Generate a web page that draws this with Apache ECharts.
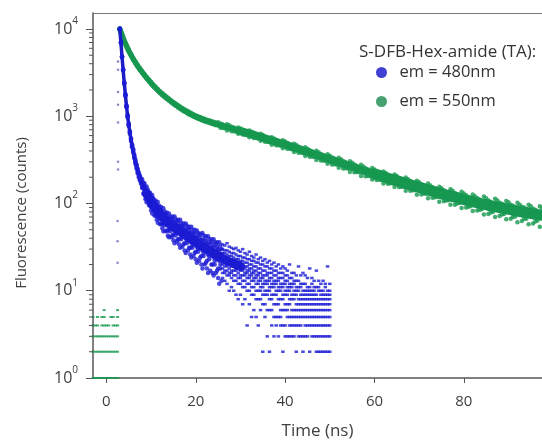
<!DOCTYPE html>
<html><head><meta charset="utf-8">
<script src="https://cdn.jsdelivr.net/npm/echarts@6/dist/echarts.min.js"></script>
<style>html,body{margin:0;padding:0;background:#fff}#c{width:542px;height:445px}</style>
</head><body><div id="c"></div>
<script>
// ---------- data ----------
const xTicks = [0, 20, 40, 60, 80];
const yTicks = [1, 10, 100, 1000, 10000];
const yMinorTicks = [2,3,4,5,6,7,8,9,20,30,40,50,60,70,80,90,200,300,400,500,600,700,800,900,2000,3000,4000,5000,6000,7000,8000,9000];

// em = 480nm : counts sampled every 0.25 ns from 3 ns to 25.75 ns (four scatter samples)
const blueT0 = 3, blueDt = 0.25;
const blueA = [10100,7080,4870,3450,2450,1790,1330,1030,825,672,560,478,418,362,316,280,250,226,208,193,
189,162,162,134,157,145,125,125,102,125,115,98,100,82,104,95,80,84,67,88,81,69,72,58,77,71,61,65,52,71,66,55,
59,47,65,60,50,54,42,59,56,46,49,38,54,50,41,45,34,49,46,37,40,31,46,43,34,37,28,42,39,31,35,25,39,36,29,32,23,36,33,26];
const blueB = [9850,6900,4730,3350,2350,1710,1265,970,775,628,520,441,382,330,285,251,222,199,183,168,
155,130,142,122,103,115,96,108,91,77,88,73,85,72,60,71,58,70,58,48,60,48,60,49,41,51,41,53,44,35,46,37,
48,39,31,41,32,43,35,27,38,29,39,31,24,33,25,35,28,21,30,22,31,25,18,27,20,28,22,16,25,17,26,20,15,22,16,23,18,12,20,13];
const blueC = [9950,7020,4820,3390,2410,1740,1310,990,810,645,548,465,395,350,305,262,240,217,190,184,
170,174,127,149,124,128,134,94,114,96,100,106,73,93,77,82,88,59,78,64,69,76,49,67,55,60,67,43,61,49,55,62,
39,55,45,50,56,34,50,40,46,52,31,46,36,40,46,27,41,32,37,43,24,38,29,34,39,21,35,26,31,36,20,32,24,28,34,17,30,22,26,30];
const blueD = [10050,6950,4760,3420,2380,1770,1290,1015,790,660,533,452,410,338,294,273,229,208,201,175,
150,156,171,112,141,111,119,133,83,111,84,93,108,65,91,67,76,91,52,76,56,65,79,43,67,48,57,71,38,60,43,52,
65,34,55,39,47,59,29,50,35,43,54,26,45,31,38,50,23,41,28,35,45,20,38,25,32,42,18,34,23,29,39,16,32,20,27,36,14,29,18,23];
// dense core of the fast decay, every 0.25 ns from 3 ns to 12 ns
const blueCenter = [10000,7000,4800,3400,2400,1750,1300,1000,800,650,540,460,400,345,300,265,235,213,195,180,
165,155,146,138,130,124,118,111,105,101,96,92,88,85,82,78,75];
// wider dense part of the fast decay, every 1 ns from 9 ns to 30 ns
const blueCore = [130,105,88,75,66,59,54,50,46,43,39,36,33,31,29,27,25,23.5,22,21,20,19];
// photon-counting tail (integer counts), columns every 0.5 ns from 26 ns to 50 ns
const blueTailT0 = 26, blueTailDt = 0.5;
const blueTail = [
[14,16,18,20,22,23,25,27,30,34],[13,16,17,19,21,23,24,27,29,33],[12,15,17,19,20,22,24,26,29,35],[10,15,16,18,20,21,23,25,28,32],
[11,14,16,17,19,21,23,25,27,31],[10,13,15,17,19,20,22,24,27,30],[9,13,15,17,18,20,21,23,26,31],[8,12,14,16,18,19,21,23,25,29],
[9,12,14,15,17,19,20,22,25,28],[7,11,13,15,17,18,20,22,24,30],[8,11,13,15,16,18,19,21,24,27],[4,10,12,14,16,17,19,21,23,26],
[7,10,12,14,15,17,18,20,23,28],[5,9,11,13,15,16,18,20,22,25],[6,9,11,13,14,16,17,19,22,24],[5,8,10,12,14,15,17,19,21,26],
[4,8,10,12,13,15,16,18,21,23],[6,8,10,11,13,14,16,18,20,24],[2,7,9,11,12,14,15,17,20,22],[5,7,9,10,12,13,15,17,19,23],
[3,6,9,10,12,13,15,16,19,21],[2,6,8,10,11,13,14,16,18,22],[4,6,8,9,11,12,14,16,18,20],[3,5,7,9,11,12,13,15,17,21],
[4,5,7,9,10,12,13,15,17,19],[3,5,7,8,10,11,13,14,16,20],[4,5,6,8,10,11,12,14,16,18],[2,4,6,8,9,11,12,14,16,19],
[3,4,6,7,9,10,12,13,15,18],[3,5,6,7,9,10,11,13,15,17],[3,4,5,7,8,10,11,12,14,20],[3,4,5,6,8,9,11,12,14,16],
[3,4,5,6,8,9,10,12,13,16],[2,4,5,6,7,9,10,11,13,15],[3,4,5,6,7,8,10,11,13,19],[3,4,5,6,7,8,9,11,12,15],
[2,3,5,6,7,8,9,10,12,16],[3,4,5,6,7,8,9,10,12,15],[3,4,5,6,7,8,9,10,11,14],[2,4,5,6,7,8,9,10,11,18],
[3,4,5,6,7,8,9,10,12,14],[3,4,5,6,7,8,9,10,11,13],[2,3,4,5,6,7,8,9,11,17],[2,3,4,5,6,7,8,10,11,13],
[2,3,4,5,6,7,8,9,10,12],[2,3,4,5,6,7,8,9,10,13],[2,3,4,5,6,7,8,9,11,12],[2,3,4,5,6,7,8,9,10,19],
[2,3,4,5,6,7,8,9,10,12]];
// rising-edge points just before the peak
const blueRise = [[2.6,4250],[2.6,3400],[2.6,1900],[2.6,1350],[2.6,850],[2.6,300],[2.6,245],[2.5,63],[2.5,37],[2.5,21]];

// em = 550nm : counts every 0.5 ns from 3 ns to 97.5 ns (three scatter samples)
const greenT0 = 3, greenDt = 0.5;
const greenA = [10100,8620,7350,6480,5720,5130,4610,4200,3840,3550,3270,3040,2820,2630,2460,2310,2170,2050,1935,1840,1750,1670,1600,1525,1455,1400,1345,1292,1242,1200,1160,1123,1088,1056,1025,1000,980,956,934,914,897,880,864,848,
854,804,807,752,809,786,737,742,690,745,723,678,681,632,686,665,622,627,579,631,609,568,572,526,576,557,518,523,481,529,
512,475,478,438,484,467,431,435,397,441,424,391,395,359,402,387,355,359,326,366,352,323,327,295,334,321,292,297,267,304,
292,266,270,242,277,266,242,247,220,255,245,221,226,200,233,223,202,206,183,215,206,186,191,168,199,190,170,175,153,182,
175,156,161,140,169,161,144,149,129,156,149,133,137,119,146,140,123,128,111,136,130,115,119,102,127,121,107,111,95,120,
115,100,105,89,113,108,95,99,84,107,103,90,94,79,102,97,85,90,75,97,93,80,85,72,93,88];
const greenB = [9900,8380,7120,6270,5530,4950,4440,4040,3690,3390,3130,2900,2690,2500,2340,2190,2060,1940,1830,1735,1650,1575,1505,1435,1370,1315,1260,1212,1162,1124,1085,1050,1016,986,958,933,913,890,870,852,835,818,803,789,
784,737,770,727,688,718,673,707,666,628,658,616,648,609,573,602,563,595,557,523,549,511,541,505,472,500,464,494,461,430,
458,423,451,419,390,416,382,409,379,351,375,344,370,342,316,340,311,335,309,285,307,280,304,279,256,278,252,276,252,230,
252,228,250,228,207,227,205,227,206,188,208,186,207,187,169,188,168,188,170,154,173,154,173,156,140,158,140,158,142,126,
144,127,146,129,115,132,116,134,119,105,121,106,123,109,97,112,97,114,101,89,104,90,106,93,82,96,83,98,86,75,
90,76,92,80,70,84,72,87,76,66,79,67,82,71,61,75,63,78,67,58,71,59,73,64,54,67];
const greenC = [9800,8450,7300,6330,5680,4990,4570,4080,3800,3430,3240,2940,2790,2540,2430,2220,2140,1965,1905,1760,1725,1600,1570,1460,1430,1335,1320,1232,1218,1144,1137,1068,1066,1004,1005,950,960,908,915,868,880,834,846,805,
812,826,734,785,734,745,759,672,721,672,684,699,615,662,616,628,642,563,609,564,573,587,511,553,511,523,536,465,508,468,
480,492,423,463,425,436,448,383,421,385,395,407,345,382,349,359,370,311,348,315,325,337,282,316,286,295,306,254,287,258,
268,279,229,260,234,243,254,207,238,213,222,233,188,217,193,202,213,170,199,177,186,196,156,184,162,171,181,142,168,148,
157,166,130,155,136,144,153,118,143,124,132,142,108,132,115,123,132,100,124,107,114,124,92,114,99,106,115,85,107,92,
100,108,79,101,86,94,102,75,95,81,89,97,70,90,77,84,92,67,86,73,80,87,62,82,69,76];
// dense core of the slow decay, every 1 ns from 3 ns to 97 ns
const greenCenter = [10000,7244,5623,4519,3758,3199,2754,2399,2113,1884,1698,1549,1413,1303,1202,1122,1047,989,944,902,
865,832,804,776,750,724,700,676,653,631,610,589,566,546,525,507,490,473,455,438,421,405,389,374,360,346,333,320,308,296,
284,274,263,253,243,234,226,218,210,202,195,188,182,176,170,164,158,153,148,143,138,134,129,125,122,118,115,111,108,105,
102,99,97,94,92,90,88,86,84,82,80,79,77,75,74];
// background counts before the excitation pulse
const greenBackground = [
[-3,1],[-2.5,1],[-2,1],[-1.5,1],[-1,1],[-0.5,1],[0,1],[0.5,1],[1,1],[1.5,1],[2,1],[2.5,1],
[-3,2],[-2.5,2],[-2,2],[-1.5,2],[-1,2],[-0.5,2],[0,2],[0.5,2],[1,2],[1.5,2],[2,2],[2.5,2],
[-3,3],[-2.5,3],[-2,3],[-1.5,3],[-1,3],[-0.5,3],[0,3],[0.5,3],[1,3],[1.5,3],[2,3],[2.5,3],
[-3,4],[-2.5,4],[-2,4],[-1,4],[-0.5,4],[0,4],[0.5,4],[1.5,4],[2,4],[2.5,4],
[-3,5],[-2,5],[-1,5],[-0.5,5],[1,5],[1.5,5],[2.5,5],
[-0.5,6],[2.5,6]];

const legendTitle = 'S-DFB-Hex-amide (TA):';
const seriesNames = ['em = 480nm', 'em = 550nm'];

// ---------- chart ----------
const BLUE = '#1c1cd4', GREEN = '#17994f', GREEN_CORE = '#189556', BLUE_CORE = '#1d1dc6';
const FONT = 'Open Sans';
function pts(arr, t0, dt) { return arr.map((v, i) => [t0 + i * dt, v]); }
const greenScatter = [greenA, greenB, greenC].flatMap(a => pts(a, greenT0, greenDt));
const blueScatter = [blueA, blueB, blueC, blueD].flatMap(a => pts(a, blueT0, blueDt));
const blueTailPts = blueTail.flatMap((col, i) => col.map(v => [blueTailT0 + i * blueTailDt, v]));
const greenLine = pts(greenCenter, 3, 1);
const XMIN = -3, XMAX = 97.5;

function coreLine(name, data, color, width) {
  return {name, type: 'line', data, symbol: 'none', silent: true, z: name === seriesNames[0] ? 3 : 2,
    lineStyle: {color, width, cap: 'round', join: 'round'}};
}

const chart = echarts.init(document.getElementById('c'), null, {renderer: 'canvas'});
chart.setOption({
  animation: false,
  backgroundColor: '#fff',
  textStyle: {fontFamily: FONT},
  title: {text: legendTitle, left: 359, top: 44, padding: 0,
    textStyle: {fontFamily: FONT, fontSize: 17, fontWeight: 'normal', color: '#333'}},
  legend: {
    orient: 'vertical', left: 376, top: 64, padding: 0, itemGap: 12,
    itemWidth: 26, itemHeight: 11, icon: 'circle',
    textStyle: {fontFamily: FONT, fontSize: 16.5, color: '#333'},
    data: [{name: seriesNames[0], itemStyle: {color: '#1010c8'}}, {name: seriesNames[1], itemStyle: {color: '#178a4c'}}]
  },
  grid: {left: 93, top: 13, width: 460, height: 366, containLabel: false},
  xAxis: [{
    type: 'value', min: XMIN, max: XMAX, position: 'bottom',
    name: 'Time (ns)', nameLocation: 'middle', nameGap: 45,
    nameTextStyle: {fontFamily: FONT, fontSize: 17, color: '#404040'},
    axisLine: {onZero: false, lineStyle: {color: '#555', width: 1.5}},
    axisTick: {length: 5, lineStyle: {color: '#555'}, customValues: xTicks},
    axisLabel: {margin: 16, fontFamily: FONT, fontSize: 15, color: '#404040', customValues: xTicks},
    splitLine: {show: false}
  }, {
    type: 'value', min: XMIN, max: XMAX, position: 'top',
    axisLine: {show: true, onZero: false, lineStyle: {color: '#777', width: 1.2}},
    axisTick: {show: false}, axisLabel: {show: false}, splitLine: {show: false}
  }],
  yAxis: {
    type: 'log', logBase: 10, min: 1, max: 15240,
    axisLine: {show: true, onZero: false, lineStyle: {color: '#555', width: 1.5}},
    axisTick: {length: 7, lineStyle: {color: '#555'}, customValues: yTicks},
    axisLabel: {
      margin: 15, customValues: yTicks,
      formatter: v => {
        const e = Math.round(Math.log10(v));
        if (Math.abs(Math.pow(10, e) - v) > 1e-6 * v) return '';
        return '{b|10}{s|' + e + '}';
      },
      rich: {
        b: {fontFamily: FONT, fontSize: 16, color: '#404040', lineHeight: 26},
        s: {fontFamily: FONT, fontSize: 10, color: '#404040', verticalAlign: 'top'}
      }
    },
    splitLine: {show: false}
  },
  graphic: [{
    type: 'text', x: 22, y: 213, rotation: Math.PI / 2,
    style: {text: 'Fluorescence (counts)', fontFamily: FONT, fontSize: 15, fill: '#404040',
      textAlign: 'center', textVerticalAlign: 'middle'}
  }],
  series: [
    {name: seriesNames[1], type: 'scatter', data: greenBackground, symbol: 'rect', symbolSize: [3, 2],
      itemStyle: {color: GREEN}, silent: true, z: 2},
    coreLine(seriesNames[1], greenLine, GREEN_CORE, 5.5),
    coreLine(seriesNames[1], greenLine.slice(27), GREEN_CORE, 8),
    coreLine(seriesNames[1], greenLine.slice(57), GREEN_CORE, 11),
    {name: seriesNames[1], type: 'scatter', data: greenScatter, symbolSize: 4.5,
      itemStyle: {color: GREEN}, silent: true, z: 2},
    {name: seriesNames[0], type: 'scatter', data: blueRise, symbolSize: 2.5,
      itemStyle: {color: '#6a6ab8'}, silent: true, z: 3},
    {name: seriesNames[0], type: 'scatter', data: blueScatter, symbolSize: 4.5,
      itemStyle: {color: BLUE}, silent: true, z: 3},
    {name: seriesNames[0], type: 'scatter', data: blueTailPts, symbol: 'rect', symbolSize: [3.5, 2.5],
      itemStyle: {color: BLUE}, silent: true, z: 3},
    coreLine(seriesNames[0], pts(blueCenter, blueT0, blueDt), BLUE_CORE, 3.5),
    coreLine(seriesNames[0], pts(blueCore, 9, 1), BLUE_CORE, 9),
    {type: 'custom', silent: true, clip: false, z: 5,
      data: yMinorTicks.map(v => [XMIN, v]),
      renderItem: (params, api) => {
        const p = api.coord([api.value(0), api.value(1)]);
        return {type: 'line', shape: {x1: p[0] - 4, y1: p[1], x2: p[0], y2: p[1]},
          style: {stroke: '#555', lineWidth: 1}};
      }}
  ]
});
</script></body></html>
